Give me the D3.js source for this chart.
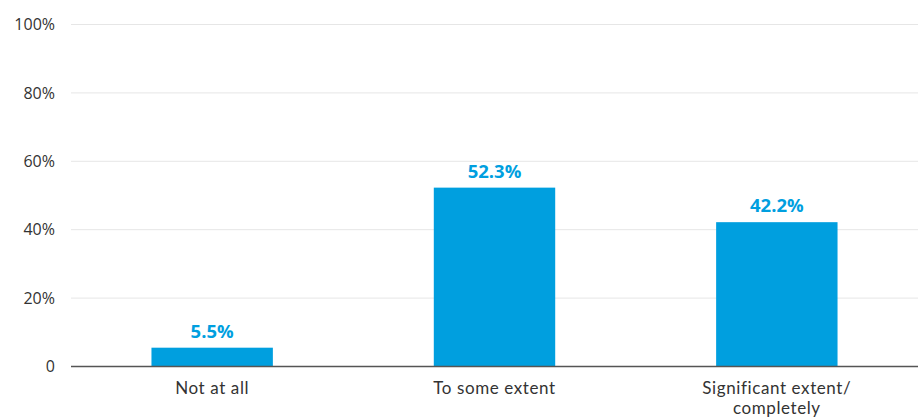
<!DOCTYPE html>
<html><head><meta charset="utf-8">
<script src="https://cdn.jsdelivr.net/npm/d3@7"></script>
<style>body{margin:0;background:#fff}svg{display:block}</style>
</head><body>
<script>
const categories = [["Not at all"], ["To some extent"], ["Significant extent/", "completely"]];
const values = [5.5, 52.3, 42.2];
const yTicks = [0, 20, 40, 60, 80, 100];
const tickLabels = ["0", "20%", "40%", "60%", "80%", "100%"];

const W = 923, H = 419;
const m = {left: 71, right: 5, top: 24.5, bottom: 52.5};
const svg = d3.select("body").append("svg").attr("width", W).attr("height", H);
const font = "'Open Sans', Lato, sans-serif";
const font2 = "Lato, 'Open Sans', sans-serif";

const x = d3.scaleBand().domain(d3.range(values.length)).range([m.left, W - m.right]).paddingInner(0.57).paddingOuter(0.285);
const y = d3.scaleLinear().domain([0, 100]).range([H - m.bottom, m.top]);

// gridlines
svg.append("g").selectAll("line").data(yTicks.filter(d => d > 0)).join("line")
  .attr("x1", m.left).attr("x2", W - m.right)
  .attr("y1", d => y(d)).attr("y2", d => y(d))
  .attr("stroke", "#e6e6e6").attr("stroke-width", 1);

// y labels
const yAxis = d3.axisLeft(y).tickValues(yTicks).tickFormat((d, i) => tickLabels[i]).tickSize(0).tickPadding(16);
const ga = svg.append("g").attr("transform", `translate(${m.left},0)`).call(yAxis);
ga.select(".domain").remove();
ga.selectAll("text").attr("font-family", font).attr("font-size", 16).attr("fill", "#333");

// bars
svg.append("g").selectAll("rect").data(values).join("rect")
  .attr("x", (d, i) => x(i)).attr("width", x.bandwidth())
  .attr("y", d => y(d)).attr("height", d => y(0) - y(d))
  .attr("fill", "#009fdf");

// value labels
svg.append("g").selectAll("text").data(values).join("text")
  .attr("x", (d, i) => x(i) + x.bandwidth() / 2).attr("y", d => y(d) - 10)
  .attr("text-anchor", "middle").attr("font-family", font).attr("font-weight", "bold")
  .attr("font-size", 18.5).attr("fill", "#009fdf")
  .text(d => d.toFixed(1) + "%");

// baseline
svg.append("line").attr("x1", m.left).attr("x2", W - m.right)
  .attr("y1", y(0)).attr("y2", y(0)).attr("stroke", "#555").attr("stroke-width", 1.5);

// x labels
const xl = svg.append("g").selectAll("text").data(categories).join("text")
  .attr("x", (d, i) => x(i) + x.bandwidth() / 2).attr("y", y(0) + 27)
  .attr("text-anchor", "middle").attr("font-family", font2).attr("font-size", 17)
  .attr("letter-spacing", 0.6).attr("fill", "#333");
xl.selectAll("tspan").data(d => d).join("tspan")
  .attr("x", function() { return this.parentNode.getAttribute("x"); })
  .attr("dy", (d, i) => i === 0 ? 0 : 20.5).text(d => d);
</script>
</body></html>
